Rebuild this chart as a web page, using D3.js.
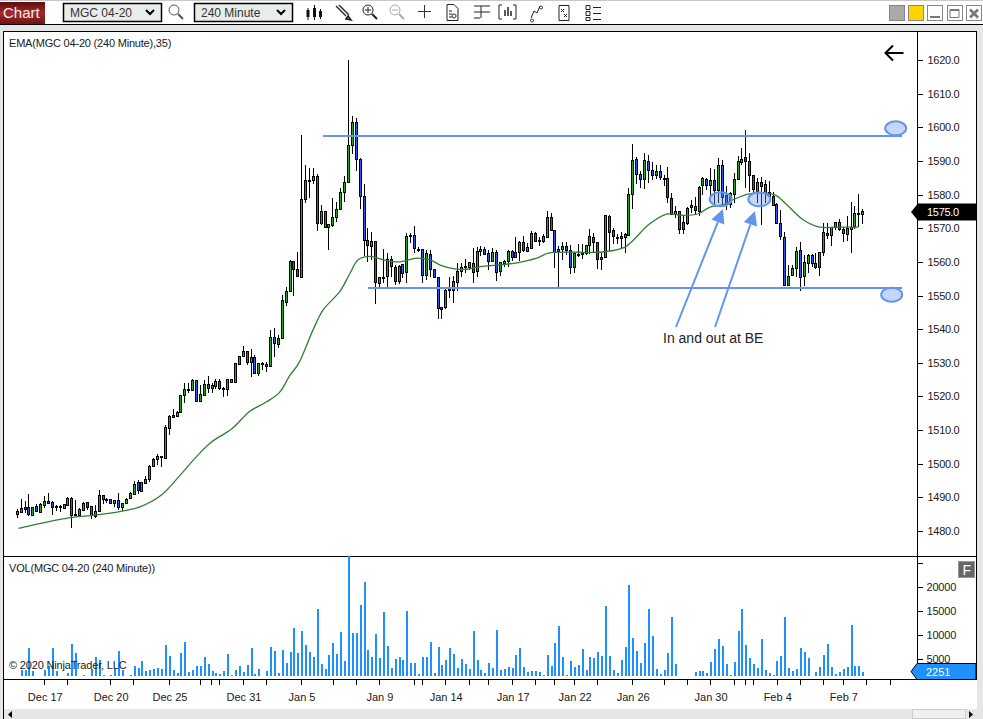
<!DOCTYPE html>
<html><head><meta charset="utf-8">
<script src="https://cdnjs.cloudflare.com/ajax/libs/d3/7.8.5/d3.min.js"></script>
<style>
html,body{margin:0;padding:0;background:#fff}
svg{display:block}
text{font-family:"Liberation Sans",Arial,sans-serif;font-size:11px;fill:#1a1a1a}
</style></head><body>
<svg id="c" width="983" height="719"></svg>
<script>
const opens=[1485.1,1485.6,1486.6,1487.1,1484.8,1487.4,1485.6,1487.8,1488.9,1488.5,1487.4,1487.4,1486.8,1487.7,1489.9,1485.2,1484.7,1486.2,1488.5,1487.3,1484.4,1485.7,1490.6,1489.6,1489.4,1488.1,1489.1,1487.1,1488.3,1489.6,1491.0,1494.5,1492.0,1494.3,1495.5,1499.3,1501.2,1502.2,1501.8,1510.7,1514.6,1514.2,1515.3,1520.2,1521.7,1522.0,1524.9,1518.7,1520.2,1523.7,1522.5,1523.1,1524.6,1522.1,1522.2,1524.3,1524.3,1529.7,1532.0,1533.4,1530.0,1531.6,1526.8,1529.8,1529.5,1528.9,1537.6,1535.5,1537.3,1548.2,1551.5,1560.3,1557.8,1555.5,1578.6,1584.2,1584.2,1585.4,1571.4,1575.0,1570.3,1570.8,1573.3,1575.6,1580.7,1583.7,1594.7,1601.5,1590.5,1579.5,1566.4,1564.5,1566.1,1553.6,1555.6,1555.6,1560.8,1558.6,1554.5,1559.4,1556.8,1568.1,1567.9,1563.9,1563.7,1555.9,1562.3,1557.8,1555.4,1545.9,1546.4,1552.0,1551.6,1553.9,1557.2,1558.8,1558.4,1559.6,1557.2,1563.0,1563.7,1562.7,1560.1,1562.9,1557.1,1559.7,1560.1,1563.2,1561.5,1562.9,1565.9,1563.3,1564.1,1568.6,1566.5,1566.2,1567.5,1573.3,1569.4,1563.7,1563.6,1564.6,1563.5,1558.3,1562.4,1562.3,1562.4,1564.9,1567.3,1565.8,1560.7,1561.3,1573.7,1569.5,1567.5,1567.7,1567.3,1568.0,1580.2,1590.5,1586.1,1584.6,1590.1,1587.4,1585.8,1586.9,1584.9,1584.8,1579.1,1574.1,1575.0,1571.8,1571.3,1576.2,1576.6,1575.2,1582.7,1584.6,1582.7,1584.3,1581.4,1588.8,1579.8,1577.0,1580.2,1584.6,1589.8,1591.1,1589.9,1585.7,1581.1,1583.7,1583.2,1579.6,1579.6,1577.2,1571.5,1567.4,1553.2,1556.1,1558.0,1563.5,1555.6,1559.7,1562.0,1559.6,1558.4,1562.8,1568.5,1567.9,1570.2,1571.7,1569.7,1568.3,1569.9,1570.5,1574.5,1574.1];
const closes=[1485.9,1486.7,1487.1,1485.0,1487.2,1486.0,1488.0,1488.9,1488.3,1486.9,1487.1,1487.0,1487.9,1489.8,1484.8,1484.9,1486.5,1488.4,1487.1,1484.5,1485.8,1490.6,1489.5,1489.3,1488.1,1489.1,1487.1,1488.2,1489.4,1491.2,1494.1,1492.0,1494.7,1495.6,1499.3,1501.4,1502.2,1501.9,1510.9,1514.2,1514.0,1515.5,1520.4,1522.1,1522.1,1524.9,1518.7,1520.7,1523.6,1522.5,1523.3,1524.5,1522.4,1522.4,1525.1,1525.1,1529.8,1532.0,1533.4,1530.0,1531.6,1526.8,1529.8,1529.4,1528.9,1537.6,1535.7,1537.3,1548.6,1551.4,1560.3,1557.8,1555.6,1578.6,1584.3,1584.3,1585.5,1571.4,1575.0,1570.3,1571.2,1573.3,1575.6,1580.7,1583.7,1594.7,1601.5,1590.5,1579.5,1566.3,1564.9,1566.1,1553.9,1555.4,1555.4,1560.8,1558.6,1554.4,1558.9,1556.8,1567.6,1567.9,1563.9,1563.5,1556.0,1562.5,1557.8,1555.3,1546.2,1546.6,1551.6,1551.6,1554.2,1557.2,1558.4,1558.4,1559.9,1556.8,1563.1,1563.7,1562.3,1560.4,1562.9,1557.1,1559.9,1560.2,1563.2,1561.5,1563.0,1565.9,1563.4,1564.4,1568.6,1566.3,1566.3,1567.7,1573.3,1569.4,1563.0,1563.0,1564.6,1563.4,1558.3,1562.5,1562.1,1562.6,1564.9,1567.6,1565.7,1560.7,1561.4,1573.9,1569.0,1567.6,1567.4,1567.0,1568.2,1580.2,1590.2,1586.0,1584.6,1590.2,1587.3,1585.8,1586.9,1585.1,1584.7,1579.2,1574.2,1575.0,1569.7,1569.7,1575.9,1576.9,1575.5,1582.3,1584.8,1582.9,1584.2,1581.4,1588.8,1579.4,1577.0,1580.4,1584.6,1589.9,1590.7,1589.8,1585.7,1581.4,1583.7,1582.6,1580.6,1580.9,1577.0,1571.7,1567.5,1553.2,1555.9,1558.1,1563.2,1555.6,1559.9,1562.0,1559.5,1558.4,1562.8,1568.8,1567.9,1570.3,1571.8,1569.7,1568.5,1570.0,1570.5,1574.5,1574.2,1575.0];
const highs=[1486.4,1489.5,1488.8,1490.9,1487.2,1487.9,1488.2,1490.4,1491.2,1488.9,1487.7,1487.7,1488.0,1490.2,1490.2,1489.2,1486.7,1488.6,1488.6,1487.5,1487.7,1492.1,1490.7,1489.7,1489.6,1489.2,1491.2,1488.4,1489.8,1491.6,1494.9,1495.1,1494.7,1496.3,1499.7,1501.7,1503.0,1502.2,1511.5,1514.5,1516.4,1515.6,1520.4,1523.9,1523.9,1525.1,1524.9,1523.4,1524.9,1526.0,1523.9,1525.3,1525.1,1522.7,1525.1,1525.3,1529.8,1532.0,1535.0,1533.4,1534.1,1532.3,1530.0,1530.1,1530.2,1539.8,1540.3,1538.3,1550.2,1552.6,1560.6,1560.3,1562.9,1597.7,1588.8,1587.8,1587.8,1586.0,1576.9,1575.0,1571.2,1578.9,1577.7,1581.9,1585.5,1620.0,1603.4,1602.7,1590.8,1583.1,1570.0,1568.8,1566.3,1555.6,1563.7,1562.5,1561.8,1559.1,1559.1,1559.4,1568.7,1568.5,1570.7,1564.5,1563.8,1563.5,1563.5,1557.8,1555.4,1546.7,1552.1,1555.4,1555.8,1559.6,1559.6,1560.8,1560.1,1564.1,1564.5,1564.7,1564.3,1563.6,1564.1,1563.4,1560.1,1560.6,1563.6,1563.4,1567.5,1566.1,1567.7,1565.7,1569.1,1568.9,1567.5,1568.3,1575.1,1574.5,1569.4,1564.8,1566.0,1566.0,1565.0,1563.0,1565.3,1565.3,1565.0,1569.8,1568.5,1565.8,1562.6,1574.0,1574.0,1570.0,1568.3,1568.8,1568.5,1581.9,1595.1,1591.1,1587.0,1592.3,1591.8,1589.8,1588.8,1588.8,1585.8,1588.1,1580.4,1576.6,1575.0,1573.5,1576.2,1578.4,1579.2,1582.4,1585.2,1584.9,1587.9,1587.6,1590.8,1590.3,1582.4,1580.9,1586.4,1591.5,1593.8,1599.3,1592.3,1585.7,1584.9,1585.1,1584.2,1584.1,1580.9,1577.5,1575.5,1569.0,1559.1,1559.1,1564.4,1565.8,1562.1,1562.4,1562.3,1562.6,1562.8,1571.5,1571.5,1570.5,1571.8,1572.8,1570.5,1573.5,1577.7,1576.7,1580.1,1575.7];
const lows=[1483.9,1485.4,1485.4,1484.6,1484.6,1485.6,1485.4,1486.9,1487.9,1484.7,1486.0,1485.6,1486.6,1487.5,1481.0,1484.4,1484.4,1486.2,1486.1,1483.6,1484.0,1485.6,1488.0,1488.3,1487.9,1487.1,1486.2,1486.0,1488.0,1489.4,1490.8,1491.0,1491.8,1494.1,1494.5,1499.1,1499.6,1499.1,1501.7,1508.6,1513.5,1514.0,1515.0,1518.1,1520.9,1521.9,1518.7,1518.7,1520.1,1520.9,1520.9,1522.1,1521.9,1519.9,1520.1,1523.9,1524.2,1529.7,1532.0,1529.4,1525.9,1526.8,1526.2,1527.9,1527.4,1528.8,1531.8,1534.4,1537.0,1546.9,1551.3,1549.9,1555.4,1555.3,1577.6,1579.0,1583.0,1569.3,1571.0,1570.2,1563.5,1570.5,1571.9,1575.4,1577.8,1583.5,1592.1,1587.0,1575.8,1561.6,1560.1,1560.6,1547.6,1551.8,1553.8,1552.6,1555.6,1553.1,1553.4,1555.2,1553.8,1565.5,1562.5,1562.9,1553.6,1554.6,1555.6,1555.1,1543.1,1543.1,1545.9,1549.2,1547.9,1551.4,1555.6,1556.6,1557.6,1553.6,1555.6,1561.6,1562.1,1557.6,1559.9,1554.4,1555.8,1558.6,1558.6,1560.4,1561.4,1560.3,1562.8,1562.9,1563.7,1565.9,1564.7,1565.5,1567.3,1569.2,1558.2,1552.6,1560.6,1561.9,1556.5,1556.7,1561.4,1560.8,1562.1,1562.4,1563.0,1557.9,1557.6,1561.1,1563.1,1565.3,1565.3,1563.7,1562.5,1567.8,1575.6,1583.2,1581.9,1581.6,1583.4,1584.4,1584.6,1584.4,1582.6,1577.4,1574.0,1572.9,1568.4,1568.2,1571.0,1574.5,1574.3,1573.7,1579.9,1581.4,1579.4,1577.2,1577.5,1577.0,1575.3,1576.0,1577.5,1584.4,1588.8,1581.9,1580.9,1580.4,1577.5,1571.0,1577.5,1579.2,1576.5,1571.3,1566.4,1552.7,1553.0,1555.7,1555.4,1551.2,1552.7,1556.6,1558.6,1557.8,1555.8,1561.6,1566.7,1564.6,1569.5,1569.3,1566.0,1566.1,1562.6,1569.7,1570.3,1571.3];
const volumes=[1400,2710,2710,7290,2500,1400,1400,2710,3540,7290,2500,1400,1400,2080,8120,6250,1400,1670,1400,2920,5420,4790,1670,1400,1670,2920,6670,2710,1400,1670,3540,3120,4580,2500,2710,2920,3120,2920,7920,5620,2710,2080,6250,8540,2290,2710,3540,3540,5420,3960,2500,2080,1870,2500,6040,1670,2710,3540,2290,3750,7290,1870,2920,1400,2500,7500,6670,2080,6870,4170,6460,11460,6250,10830,7920,6460,5420,15420,3960,2920,5830,8330,6040,10620,4580,26460,10420,10420,16250,21040,6870,5420,10210,5210,14790,7710,3120,5000,5420,4790,15000,4170,4170,1870,5420,5420,8540,2080,7500,3750,4790,7290,6040,3120,5000,3960,2920,10830,4790,2710,2080,4170,3120,11040,2710,2920,3330,3120,5830,7290,3330,2290,2500,2500,2290,1670,5830,3540,8330,11870,5420,1670,4580,3330,3750,7080,2710,5420,5210,6460,5620,16040,5620,2710,2080,4790,7500,20420,9370,6670,4170,8330,15420,9790,2920,1870,2710,6250,13750,3960,1400,1400,1400,1400,2290,2500,2500,2080,4370,7080,9170,7710,3960,1670,4370,10830,15420,7920,5210,3960,3120,9170,2710,2080,1670,4580,5620,13750,3120,2500,2920,7290,6460,5210,1400,2290,3330,5830,8120,3330,1870,2290,2920,3330,12080,3540,3540,2251];
// EMA(35) at these bar positions
const emaBars=[0.3,13.5,19.9,27.2,31.5,37,41.8,46,49.9,55,59.7,64,67.3,70,72.1,76,78.5,82.8,85.4,87.5,90.5,94,98.2,102.5,105.9,108.9,112.3,115.3,118.8,123.9,128.6,133.3,136.3,141.9,146.6,150.8,156,158.6,162,166.7,171,174.8,177.8,181.2,184.6,187.6,191,194.5,197.5,201.7,206,210.3,215.9];
const emaValues=[1480.8,1484.0,1484.7,1486.0,1487.2,1490.7,1496.6,1502.1,1506.5,1510.3,1515.6,1518.4,1521.2,1526.3,1529.6,1540.0,1545.7,1551.2,1556.6,1560.6,1561.6,1560.6,1560.0,1561.1,1560.6,1558.9,1557.9,1557.8,1558.6,1559.1,1559.8,1561.1,1562.6,1562.9,1562.8,1563.0,1564.4,1567.0,1571.0,1574.2,1573.8,1574.3,1576.3,1577.0,1578.9,1580.1,1580.5,1579.9,1577.0,1572.5,1570.3,1570.3,1570.3];
const dateTicks=[6.9,12.8,23.8,29.7,38.9,46.9,49.7,51.8,57.9,63.8,72.8,81,86.9,92.8,101.8,103.9,109.8,115.9,120.8,127,132.9,137.8,142.9,148.8,157.8,166,171.9,177.8,183.9,186.8,188.8,194.9,200.9,206.8,211.9,217.8,224];
const dateLabels=["Dec 17","","Dec 20","","Dec 25","","","","Dec 31","","Jan 5","","","Jan 9","","","Jan 14","","","Jan 17","","","Jan 22","","Jan 26","","","Jan 30","","","","Feb 4","","","Feb 7","",""];
const priceTicks=[1480,1490,1500,1510,1520,1530,1540,1550,1560,1570,1580,1590,1600,1610,1620];
const volumeTicks=[5000,10000,15000,20000,25000];
const volumeTickLabels=["5000","10000","15000","20000",""];
const levelPrices=[1597.4,1552.2];

const svg=d3.select("#c");
const x=d3.scaleLinear().domain([0,217]).range([17.3,862.7]);
const y=d3.scaleLinear().domain([1480,1620]).range([531,60]);
const yv=d3.scaleLinear().domain([1458,26458]).range([676,556]);
const bars=d3.range(opens.length);
const px=i=>Math.floor(x(i));
const GREY="#e6e6e6",BLUE="#6495ed";

// chrome
svg.append("rect").attr("width",983).attr("height",719).attr("fill","#fff");
svg.append("rect").attr("y",0).attr("width",983).attr("height",1).attr("fill","#c8c8c8");
svg.append("rect").attr("y",25).attr("width",983).attr("height",694).attr("fill",GREY);
svg.append("rect").attr("y",24).attr("width",983).attr("height",1).attr("fill","#000");
svg.append("rect").attr("x",3).attr("y",31).attr("width",974).attr("height",678).attr("fill","#fff");
svg.append("path").attr("d","M3.5,719V31.5H976.5V679").attr("fill","none").attr("stroke","#000").attr("shape-rendering","crispEdges");

// toolbar
const grad=svg.append("defs").append("linearGradient").attr("id","rg").attr("x2",0).attr("y2",1);
grad.append("stop").attr("offset",0).attr("stop-color","#5e0d0d");
grad.append("stop").attr("offset",.5).attr("stop-color","#a52a2a");
grad.append("stop").attr("offset",1).attr("stop-color","#6e1414");
svg.append("rect").attr("y",2).attr("width",45).attr("height",22).attr("fill","url(#rg)");
svg.append("text").attr("x",3).attr("y",18).style("font-size","15px").style("fill","#eee").text("Chart");
[[63,99,"MGC 04-20"],[194,99,"240 Minute"]].forEach(d=>{
 svg.append("rect").attr("x",d[0]+.5).attr("y",3.5).attr("width",d[1]-1).attr("height",18).attr("fill","#e9ede9").attr("stroke","#000").attr("stroke-width",1.5);
 svg.append("text").attr("x",d[0]+7).attr("y",17).style("font-size","12px").style("fill","#333").text(d[2]);
 svg.append("path").attr("d",`M${d[0]+83},10l4,4l4,-4`).attr("fill","none").attr("stroke","#000").attr("stroke-width",2);
});
const icon=(d,c,w)=>svg.append("path").attr("d",d).attr("fill","none").attr("stroke",c||"#222").attr("stroke-width",w||1);
const mag=(cx,c)=>{svg.append("circle").attr("cx",cx).attr("cy",10).attr("r",5).attr("fill","none").attr("stroke",c).attr("stroke-width",1);icon(`M${cx+4},14l5,5`,c,2);};
mag(174,"#555");
icon("M308,8v12M314.5,5v15M320.5,9v10","#111",1);
icon("M308,10v7M314.5,8v9M320.5,11v6","#111",3);
icon("M336,6l10,10M339,5l10,10","#333",1.5);icon("M348,16l3,4l-5,-1z","#111",1.5);
mag(368,"#222");icon("M365,10h6M368,7v6","#222");
mag(395,"#aaa");icon("M392,10h6","#aaa");
icon("M418,11.5h13M424.5,5v13","#333");
icon("M447,4.5h7l4,4v12h-11zM449,11h3M449,14h3M449,17h3M454,14a2,2 0 1,0 .1,0","#222");
icon("M474,6h16M474,12h16M474,18h6M481,6v12","#222");
icon("M502,5h-3v14h3M513,5h3v14h-3","#222");icon("M505,16v-6M508,16v-9M511,16v-5","#222",1.5);
icon("M531,18l3,-7l3,2l3,-7M532,19a1.5,1.5 0 1,0 .1,0M541,6a1.5,1.5 0 1,0 .1,0","#222");
icon("M559,5.5h10v15h-10zM561,9l3,3M564,9l-3,3M564,14l3,3M567,14l-3,3","#222");
icon("M586,5.5h4v4h-4zM586,11.5h4v4h-4zM586,17.5h4v3h-4zM593,7.5h8M593,13.5h8M593,19.5h8","#222");
[[889,"#aaa"],[908,"#ffd200"]].forEach(d=>svg.append("rect").attr("x",d[0]+.5).attr("y",5.5).attr("width",15).attr("height",15).attr("fill",d[1]).attr("stroke","#888"));
[927,947,966].forEach(a=>svg.append("rect").attr("x",a+.5).attr("y",5.5).attr("width",15).attr("height",15).attr("fill","#fff").attr("stroke","#888"));
icon("M930,17h10","#777",2);icon("M950,9.5h9v8h-9zM950,10.5h9","#777",1);icon("M970,9.5l8,8M978,9.5l-8,8","#777",2.5);

// panes
const pane=svg.append("g").attr("shape-rendering","crispEdges");
pane.append("line").attr("x1",3).attr("x2",977).attr("y1",556.5).attr("y2",556.5).attr("stroke","#000");
pane.append("line").attr("x1",3).attr("x2",977).attr("y1",679.5).attr("y2",679.5).attr("stroke","#000");
pane.append("line").attr("x1",917.5).attr("x2",917.5).attr("y1",31).attr("y2",679).attr("stroke","#000");

// volume
svg.append("g").attr("shape-rendering","crispEdges").selectAll("rect").data(bars).join("rect")
 .attr("x",i=>px(i)).attr("width",2).attr("y",i=>yv(Math.min(volumes[i],26458)))
 .attr("height",i=>Math.max(0,yv(1458)-yv(Math.min(volumes[i],26458)))).attr("fill","#1e90ff");

// candles
const cg=svg.append("g").attr("shape-rendering","crispEdges");
cg.selectAll("line").data(bars).join("line").attr("x1",i=>px(i)+.5).attr("x2",i=>px(i)+.5)
 .attr("y1",i=>y(highs[i])).attr("y2",i=>y(lows[i])).attr("stroke","#000");
cg.selectAll("rect").data(bars).join("rect").attr("x",i=>px(i)-.5).attr("width",2)
 .attr("y",i=>Math.round(y(Math.max(opens[i],closes[i])))+.5)
 .attr("height",i=>Math.max(1,Math.round(Math.abs(y(opens[i])-y(closes[i])))))
 .attr("fill",i=>closes[i]>=opens[i]?"#18b018":"#2a5ae8").attr("stroke","#000");

// EMA
const emaLine=d3.line().x((d,i)=>x(emaBars[i])).y(d=>y(d)).curve(d3.curveCatmullRom.alpha(.5));
svg.append("path").datum(emaValues).attr("d",emaLine).attr("fill","none").attr("stroke","#2f7f35").attr("stroke-width",1.3);

// axes
const styl=(g,ls)=>{g.select(".domain").remove();g.selectAll("line").attr("stroke","#000").attr("shape-rendering","crispEdges");g.selectAll("text").style("fill","#1a1a1a").style("font-family",'"Liberation Sans",Arial,sans-serif').style("font-size","11px").style("letter-spacing",ls);};
svg.append("g").attr("transform","translate(917.5,0)").call(d3.axisRight(y).tickValues(priceTicks).tickFormat(d3.format(".1f")).tickSize(5).tickPadding(5)).call(styl,"-0.3px");
svg.append("g").attr("transform","translate(917.5,0)").call(d3.axisRight(yv).tickValues(volumeTicks).tickFormat((d,i)=>volumeTickLabels[i]).tickSize(5).tickPadding(4)).call(styl,"-0.2px");
svg.append("g").attr("transform","translate(0,679.5)").call(d3.axisBottom(x).tickValues(dateTicks).tickFormat((d,i)=>dateLabels[i]).tickSize(5).tickPadding(9)).call(styl,"0").selectAll("text").attr("dx",".6");

// titles
svg.append("text").attr("x",9).attr("y",47).style("letter-spacing","-0.2px").text("EMA(MGC 04-20 (240 Minute),35)");
svg.append("text").attr("x",9).attr("y",572).style("letter-spacing","-0.19px").text("VOL(MGC 04-20 (240 Minute))");
svg.append("text").attr("x",9).attr("y",669).style("letter-spacing","-0.17px").text("© 2020 NinjaTrader, LLC");

// drawing objects
const lvlX=[[323,902],[368,902]];
levelPrices.forEach((p,i)=>svg.append("line").attr("x1",lvlX[i][0]).attr("x2",lvlX[i][1]).attr("y1",y(p)).attr("y2",y(p)).attr("stroke",BLUE).attr("stroke-width",2));
[[895.7,128.3,10.5,7],[891.7,294.7,10.5,7],[720.7,199.3,11,7],[759.3,199.3,11,7]].forEach(e=>
 svg.append("ellipse").attr("cx",e[0]).attr("cy",e[1]).attr("rx",e[2]).attr("ry",e[3]).attr("fill",BLUE).attr("fill-opacity",.38).attr("stroke",BLUE).attr("stroke-width",2));
[[676,327,723,209],[715,327,755,211]].forEach(a=>{
 const ang=Math.atan2(a[3]-a[1],a[2]-a[0]),L=14,W=7;
 const bx=a[2]-L*Math.cos(ang),by=a[3]-L*Math.sin(ang);
 svg.append("line").attr("x1",a[0]).attr("y1",a[1]).attr("x2",bx).attr("y2",by).attr("stroke",BLUE).attr("stroke-width",2);
 svg.append("path").attr("d",`M${a[2]},${a[3]}L${bx-W*Math.sin(ang)},${by+W*Math.cos(ang)}L${bx+W*Math.sin(ang)},${by-W*Math.cos(ang)}Z`).attr("fill",BLUE);
});
svg.append("text").attr("x",663).attr("y",343).style("font-size","14px").style("fill","#222").text("In and out at BE");
icon("M885.5,53h18M893,45.5l-7.5,7.5l7.5,7.5","#000",2);

// last-value flags
svg.append("path").attr("d","M911,212l7,-8.5h58v17h-58z").attr("fill","#000");
svg.append("text").attr("x",927).attr("y",216).style("fill","#fff").style("letter-spacing","-0.3px").text(d3.format(".1f")(closes[closes.length-1]));
svg.append("path").attr("d","M911,671.5l6,-8h59v16h-59z").attr("fill","#1e90ff").attr("stroke","#000");
svg.append("text").attr("x",926).attr("y",676).style("fill","#fff").text(volumes[volumes.length-1]);
svg.append("rect").attr("x",958.5).attr("y",561.5).attr("width",16).attr("height",16).attr("fill","#666").attr("stroke","#999");
svg.append("text").attr("x",962.5).attr("y",575).style("font-size","14px").style("fill","#fff").text("F");

// scrollbar
svg.append("path").attr("d","M12,711v7l-4,-3.5z").attr("fill","#000");
svg.append("rect").attr("x",912.5).attr("y",709.5).attr("width",53).attr("height",9).attr("fill","#f0f0f0").attr("stroke","#ccc");
svg.append("path").attr("d","M969,711v7l4,-3.5z").attr("fill","#000");
</script></body></html>
